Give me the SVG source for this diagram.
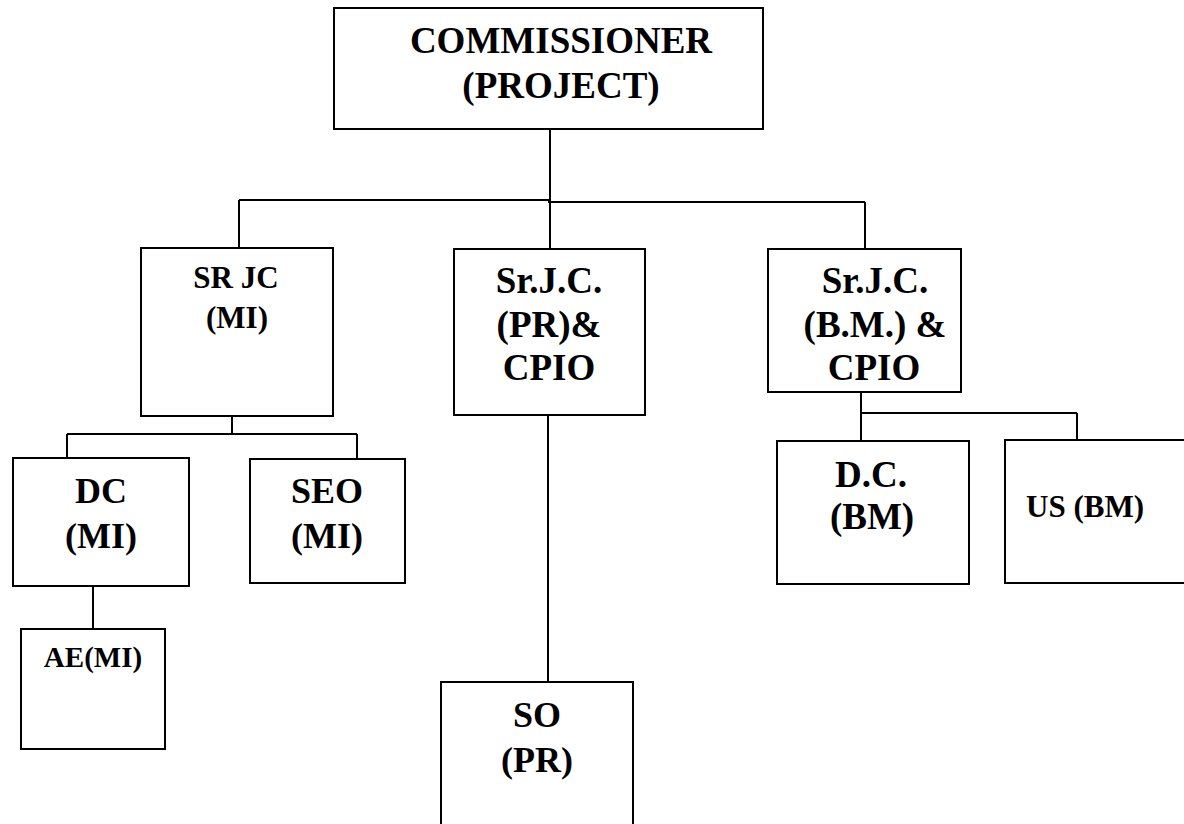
<svg xmlns="http://www.w3.org/2000/svg" width="1184" height="824" viewBox="0 0 1184 824">
<style>
.box{fill:#fff;stroke:#000;stroke-width:2}
.ln{fill:none;stroke:#000;stroke-width:2}
text{font-family:'Liberation Serif','Times New Roman',serif;font-weight:700;fill:#000;text-anchor:middle}
.f37{font-size:37px}
.f36{font-size:36px}
.f31{font-size:31px}
.f29{font-size:29px}
</style>
<rect width="1184" height="824" fill="#fff"/>
<g id="connectors">
<path class="ln" d="M550 129V249"/>
<path class="ln" d="M239 200H550"/>
<path class="ln" d="M548 202H865"/>
<path class="ln" d="M239 200V248"/>
<path class="ln" d="M865 202V249"/>
<path class="ln" d="M232 410V434"/>
<path class="ln" d="M67 434H357"/>
<path class="ln" d="M67 434V458"/>
<path class="ln" d="M357 434V459"/>
<path class="ln" d="M93 583V629"/>
<path class="ln" d="M548 415V682"/>
<path class="ln" d="M861 392V441"/>
<path class="ln" d="M861 413H1077"/>
<path class="ln" d="M1077 413V440"/>
</g>
<g id="commissioner">
<rect class="box" x="334" y="8" width="429" height="121"/>
<text class="f37" x="561" y="53">COMMISSIONER</text>
<text class="f37" x="561" y="98">(PROJECT)</text>
</g>
<g id="srjc_mi">
<rect class="box" x="141" y="248" width="192" height="168"/>
<text class="f31" x="236" y="288">SR JC</text>
<text class="f31" x="237" y="328">(MI)</text>
</g>
<g id="srjc_pr">
<rect class="box" x="454" y="249" width="191" height="166"/>
<text class="f37" x="549" y="293">Sr.J.C.</text>
<text class="f37" x="549" y="337">(PR)&amp;</text>
<text class="f37" x="549" y="380">CPIO</text>
</g>
<g id="srjc_bm">
<rect class="box" x="768" y="249" width="193" height="143"/>
<text class="f37" x="875" y="293">Sr.J.C.</text>
<text class="f37" x="875" y="337">(B.M.) &amp;</text>
<text class="f37" x="874" y="380">CPIO</text>
</g>
<g id="dc_mi">
<rect class="box" x="13" y="458" width="176" height="128"/>
<text class="f36" x="101" y="503">DC</text>
<text class="f36" x="101" y="548">(MI)</text>
</g>
<g id="seo_mi">
<rect class="box" x="250" y="459" width="155" height="124"/>
<text class="f36" x="327" y="503">SEO</text>
<text class="f36" x="327" y="548">(MI)</text>
</g>
<g id="ae_mi">
<rect class="box" x="21" y="629" width="144" height="120"/>
<text class="f29" x="93" y="667">AE(MI)</text>
</g>
<g id="dc_bm">
<rect class="box" x="777" y="441" width="192" height="143"/>
<text class="f37" x="871" y="487">D.C.</text>
<text class="f37" x="872" y="529">(BM)</text>
</g>
<g id="us_bm">
<rect class="box" x="1005" y="440" width="190" height="143"/>
<text class="f31" x="1026" y="517" style="text-anchor:start">US (BM)</text>
</g>
<g id="so_pr">
<rect class="box" x="441" y="682" width="192" height="150"/>
<text class="f36" x="537" y="727">SO</text>
<text class="f36" x="537" y="772">(PR)</text>
</g>
</svg>
